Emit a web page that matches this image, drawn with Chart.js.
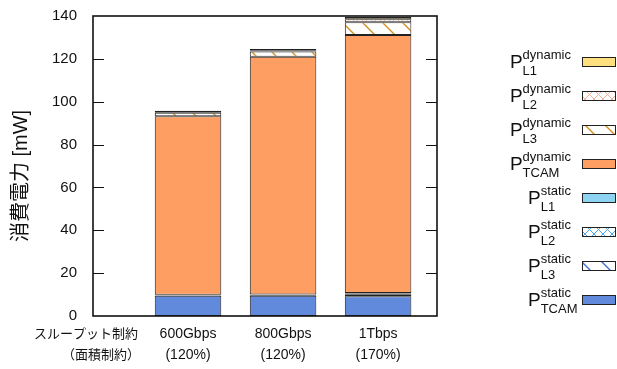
<!DOCTYPE html>
<html>
<head>
<meta charset="utf-8">
<script src="https://cdn.jsdelivr.net/npm/chart.js@4/dist/chart.umd.min.js"></script>
<style>
  html, body { margin: 0; padding: 0; background: #fff; }
  canvas { display: block; }
</style>
</head>
<body>
<canvas id="c" width="617" height="369"></canvas>
<script>
// Throughput targets and their area budgets
const categories = ['600Gbps', '800Gbps', '1Tbps'];
const areaLimits = ['(120%)', '(120%)', '(170%)'];
const rowLabels = ['スループット制約', '（面積制約）'];
const yTicks = [0, 20, 40, 60, 80, 100, 120, 140];

// Power breakdown [mW], stacked bottom to top
const staticTCAM  = [9.4, 9.5, 9.2];
const staticL3    = [0.3, 0.3, 1.0];
const staticL2    = [0.1, 0.1, 0.3];
const staticL1    = [0.1, 0.1, 0.2];
const dynamicTCAM = [83.3, 111.0, 120.4];
const dynamicL3   = [1.7, 2.4, 6.0];
const dynamicL2   = [0.3, 0.4, 1.4];
const dynamicL1   = [0.6, 0.8, 1.0];

const LATIN = "'Liberation Sans', Arial, sans-serif";
const MIXED = "'Liberation Sans', 'Noto Sans CJK JP', sans-serif";
const CJK = "'Noto Sans CJK JP', sans-serif";

function crossPattern(line) {
  const t = document.createElement('canvas');
  t.width = 9; t.height = 9;
  const g = t.getContext('2d');
  g.fillStyle = '#fff'; g.fillRect(0, 0, 9, 9);
  g.strokeStyle = line; g.lineWidth = 1;
  g.beginPath();
  g.moveTo(0, 0); g.lineTo(9, 9);
  g.moveTo(9, 0); g.lineTo(0, 9);
  g.stroke();
  return g.createPattern(t, 'repeat');
}
function diagPattern(line) {
  const t = document.createElement('canvas');
  t.width = 20; t.height = 20;
  const g = t.getContext('2d');
  g.fillStyle = '#fff'; g.fillRect(0, 0, 20, 20);
  g.strokeStyle = line; g.lineWidth = 1.4;
  g.beginPath();
  g.moveTo(-2, -2); g.lineTo(22, 22);
  g.moveTo(-2, 18); g.lineTo(2, 22);
  g.moveTo(18, -2); g.lineTo(22, 2);
  g.stroke();
  return g.createPattern(t, 'repeat');
}

const series = [
  { sup: 'static',  sub: 'TCAM', data: staticTCAM,  fill: '#6189dc' },
  { sup: 'static',  sub: 'L3',   data: staticL3,    fill: diagPattern('#3f6fd0') },
  { sup: 'static',  sub: 'L2',   data: staticL2,    fill: crossPattern('#4aa3e6') },
  { sup: 'static',  sub: 'L1',   data: staticL1,    fill: '#8fd3f2' },
  { sup: 'dynamic', sub: 'TCAM', data: dynamicTCAM, fill: '#fe9e63' },
  { sup: 'dynamic', sub: 'L3',   data: dynamicL3,   fill: diagPattern('#d4901e') },
  { sup: 'dynamic', sub: 'L2',   data: dynamicL2,   fill: crossPattern('#f7b39a') },
  { sup: 'dynamic', sub: 'L1',   data: dynamicL1,   fill: '#ffe07f' }
];

const datasets = series.map(s => ({
  label: 'P ' + s.sup + ' ' + s.sub,
  data: s.data.map((v, i) => ({ x: i, y: v })),
  backgroundColor: s.fill,
  borderColor: '#222',
  borderWidth: 1,
  borderSkipped: false,
  barPercentage: 0.7,
  categoryPercentage: 1.0
}));

// Frame, inward ticks, axis title, row captions and the legend
const decorations = {
  id: 'decorations',
  afterDraw(chart) {
    const { ctx, chartArea: a, scales } = chart;
    ctx.save();
    ctx.strokeStyle = '#111';
    ctx.lineWidth = 1;
    ctx.beginPath();
    yTicks.forEach(v => {
      if (v === 0 || v === 140) return;
      const y = Math.round(scales.y.getPixelForValue(v)) + 0.5;
      ctx.moveTo(a.left, y); ctx.lineTo(a.left + 11, y);
      ctx.moveTo(a.right, y); ctx.lineTo(a.right - 11, y);
    });
    ctx.stroke();
    ctx.lineWidth = 1.6;
    ctx.strokeRect(a.left, a.top, a.right - a.left, a.bottom - a.top);

    // y axis title
    ctx.fillStyle = '#111';
    ctx.save();
    ctx.translate(21, 176);
    ctx.rotate(-Math.PI / 2);
    ctx.font = '20px ' + MIXED;
    ctx.textAlign = 'center';
    ctx.textBaseline = 'middle';
    ctx.fillText('消費電力 [mW]', 0, 0);
    ctx.restore();

    // row captions under the axis
    ctx.font = '13px ' + CJK;
    ctx.textAlign = 'center';
    ctx.textBaseline = 'middle';
    ctx.fillText(rowLabels[0], 86, 333);
    ctx.fillText(rowLabels[1], 101, 354);

    // legend, top entry is the top of the stack
    const order = series.slice().reverse();
    order.forEach((s, i) => {
      const cy = 62 + i * 34.0;
      ctx.fillStyle = s.fill;
      ctx.fillRect(582, cy - 4.5, 34, 9);
      ctx.strokeStyle = '#222';
      ctx.lineWidth = 1;
      ctx.strokeRect(582.5, cy - 4.5, 33, 9);

      ctx.fillStyle = '#111';
      ctx.textBaseline = 'alphabetic';
      ctx.textAlign = 'left';
      ctx.font = '13px ' + LATIN;
      const supW = ctx.measureText(s.sup).width;
      const sx = 571 - supW;
      ctx.fillText(s.sup, sx, cy - 3);
      ctx.fillText(s.sub, sx, cy + 13);
      ctx.font = '19px ' + LATIN;
      ctx.textAlign = 'right';
      ctx.fillText('P', sx, cy + 5.5);
    });
    ctx.restore();
  }
};

new Chart(document.getElementById('c'), {
  type: 'bar',
  data: { datasets },
  options: {
    responsive: false,
    animation: false,
    layout: { padding: { left: 0, right: 180, top: 16, bottom: 0 } },
    plugins: { legend: { display: false }, tooltip: { enabled: false } },
    scales: {
      x: {
        type: 'linear',
        stacked: true,
        offset: false,
        min: -1,
        max: 2.62,
        grid: { display: false, drawTicks: false, offset: false },
        border: { display: false },
        afterBuildTicks: s => { s.ticks = categories.map((c, i) => ({ value: i })); },
        afterFit: s => { s.height = 53; s.paddingLeft = 0; s.paddingRight = 0; },
        ticks: {
          autoSkip: false,
          maxRotation: 0,
          padding: 8,
          color: '#111',
          font: { family: LATIN, size: 14, lineHeight: 1.5 },
          callback: v => [categories[v], areaLimits[v]]
        }
      },
      y: {
        stacked: true,
        min: 0,
        max: 140,
        grid: { display: false, drawTicks: false },
        border: { display: false },
        afterBuildTicks: s => { s.ticks = yTicks.map(v => ({ value: v })); },
        afterFit: s => { s.width = 93; s.paddingTop = 0; s.paddingBottom = 0; },
        ticks: {
          padding: 16,
          color: '#111',
          font: { family: LATIN, size: 15 }
        }
      }
    }
  },
  plugins: [decorations]
});
</script>
</body>
</html>
